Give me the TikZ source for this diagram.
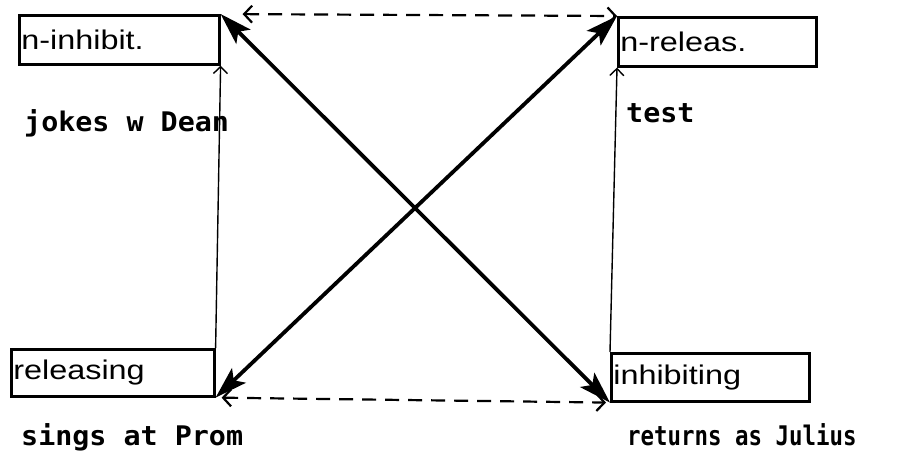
\documentclass[tikz,border=0pt]{standalone}
\usepackage{fontspec}
\usetikzlibrary{arrows.meta}
\newfontfamily\boxfont[FakeStretch=1.2]{Liberation Sans}
\newfontfamily\twfont[FakeStretch=1.05]{DejaVu Sans Mono}
\newfontfamily\twfontn[FakeStretch=0.83]{DejaVu Sans Mono}
\begin{document}
\begin{tikzpicture}[x=1pt,y=-1pt,
  box/.style={draw,line width=2.6pt,anchor=north west,inner xsep=2pt,inner ysep=0pt,
    align=left,font=\boxfont\fontsize{27}{30}\selectfont},
  lbl/.style={anchor=base west,inner sep=0pt},
  bigarrow/.style={line width=3.8pt,{Stealth[length=32pt,width=20pt,inset=7pt]}-{Stealth[length=32pt,width=20pt,inset=7pt]}},
  dasharrow/.style={line width=2.2pt,dash pattern=on 14pt off 9pt,
    {Straight Barb[length=8pt,width=17pt,line width=2.2pt]}-{Straight Barb[length=8pt,width=17pt,line width=2.2pt]}},
  thinarrow/.style={line width=1.4pt,-{Straight Barb[length=7pt,width=14pt,line width=1.4pt]}}]
\useasboundingbox (0,0) rectangle (909,474);
% boxes
\node[box,minimum width=200pt,minimum height=49pt,text width=196pt] (ninh) at (18,14) {n-inhibit.};
\node[box,minimum width=198pt,minimum height=49pt,text width=194pt] (nrel) at (617,16) {n-releas.};
\node[box,minimum width=203pt,minimum height=47pt,text width=199pt] (rel) at (10,348) {releasing};
\node[box,minimum width=198pt,minimum height=48pt,text width=194pt] (inh) at (610,352) {inhibiting};
% labels
\node[lbl,font=\twfont\bfseries\fontsize{27}{30}\selectfont] (t1) at (24,131) {jokes w Dean};
\node[lbl,font=\twfont\bfseries\fontsize{27}{30}\selectfont] (t2) at (626,122) {test};
\node[lbl,font=\twfont\bfseries\fontsize{27}{30}\selectfont] (t3) at (21,445) {sings at Prom};
\node[lbl,font=\twfontn\bfseries\fontsize{27}{30}\selectfont] (t4) at (627,445) {returns as Julius};
% vertical arrows
\draw[thinarrow] (rel.north east) -- (ninh.south east);
\draw[thinarrow] (inh.north west) -- (nrel.south west);
% dashed arrows
\draw[dasharrow,shorten <=22pt] (ninh.north east) -- (nrel.north west);
\draw[dasharrow,shorten <=6pt,shorten >=4pt] (rel.south east) -- (inh.south west);
% diagonals
\draw[bigarrow] (ninh.north east) -- (inh.south west);
\draw[bigarrow] (nrel.north west) -- (rel.south east);
\end{tikzpicture}
\end{document}
